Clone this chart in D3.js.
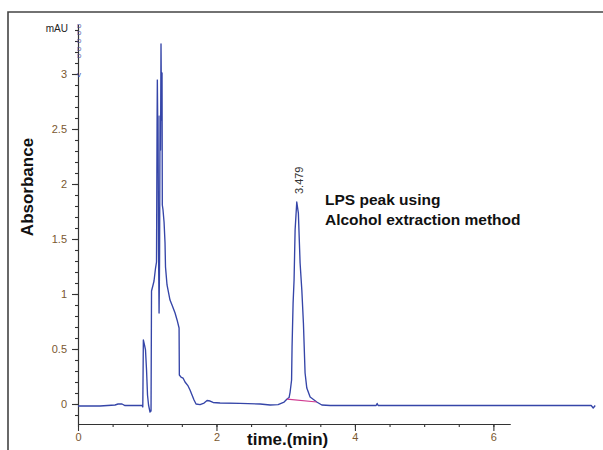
<!DOCTYPE html>
<html><head><meta charset="utf-8">
<script src="https://cdn.jsdelivr.net/npm/d3@7/dist/d3.min.js"></script>
<style>body{margin:0;background:#fff}svg{display:block}</style>
</head><body><svg id="c" width="603" height="450"></svg>
<script>
// Chromatogram trace (time in min, absorbance in mAU)
const time = [0.000,0.318,0.535,0.578,0.636,0.679,0.925,0.936,0.944,0.961,0.975,0.990,1.004,1.019,1.040,1.055,1.062,1.084,1.098,1.120,1.134,1.142,1.146,1.152,1.156,1.163,1.171,1.178,1.185,1.192,1.199,1.207,1.214,1.218,1.228,1.243,1.257,1.264,1.286,1.329,1.358,1.402,1.431,1.460,1.464,1.488,1.517,1.546,1.590,1.618,1.647,1.676,1.705,1.763,1.821,1.864,1.908,1.951,2.052,2.341,2.630,2.775,2.890,2.977,3.020,3.049,3.064,3.085,3.092,3.107,3.121,3.136,3.160,3.183,3.208,3.233,3.256,3.280,3.305,3.353,3.449,3.522,3.642,4.306,4.321,4.335,6.098,7.413,7.442,7.471];
const absorbance = [-0.018,-0.018,-0.009,0.000,0.000,-0.014,-0.014,-0.027,0.582,0.536,0.491,0.309,0.082,-0.009,-0.073,-0.064,1.027,1.082,1.118,1.236,1.291,2.536,2.945,2.536,2.618,1.400,0.827,1.309,2.618,2.309,3.273,2.582,3.009,1.809,1.764,1.655,1.464,1.245,1.082,0.945,0.900,0.827,0.764,0.691,0.264,0.245,0.236,0.200,0.164,0.127,0.082,0.036,0.000,-0.005,0.009,0.032,0.027,0.014,0.009,0.005,0.000,-0.009,-0.005,0.018,0.045,0.059,0.109,0.218,0.518,0.918,1.127,1.582,1.836,1.736,1.282,1.036,0.736,0.282,0.145,0.064,0.018,-0.009,-0.014,-0.014,0.005,-0.014,-0.014,-0.014,-0.036,-0.014];
// integration baseline of the LPS peak
const baseTime = [3.020, 3.449];
const baseAbs = [0.045, 0.018];
const yTickValues = [0, 0.5, 1, 1.5, 2, 2.5, 3];
const yTickLabels = ["0", "0.5", "1", "1.5", "2", "2.5", "3"];
const xTickValues = [0, 2, 4, 6];
const xTickLabels = ["0", "2", "4", "6"];
const peakLabel = "3.479";
const peakTime = 3.160, peakAbs = 1.836;

const svg = d3.select("#c");
const x = d3.scaleLinear().domain([0, 6.24]).range([78, 510]);
const y = d3.scaleLinear().domain([-0.18, 3.45]).range([423.8, 24.5]);

// frame
svg.append("path").attr("d","M8,450V12H603").attr("fill","none").attr("stroke","#444").attr("stroke-width",1.6);

const tickColor = "#7a5830";
// Y axis
const yMinor = d3.range(-1, 35).map(d => d / 10);
svg.append("g").attr("transform","translate(78,0)")
  .call(d3.axisLeft(y).tickValues(yMinor).tickSize(3).tickSizeOuter(0).tickFormat(""))
  .call(g => g.selectAll("line,path").attr("stroke","#333").attr("stroke-width",1.1));
const ya = svg.append("g").attr("transform","translate(78,0)")
  .call(d3.axisLeft(y).tickValues(yTickValues).tickSize(6).tickSizeOuter(0).tickPadding(5)
    .tickFormat((d,i) => yTickLabels[i]));
ya.selectAll("line,path").attr("stroke","#333").attr("stroke-width",1.1);
ya.selectAll("text").attr("fill",tickColor).style("font-family","Liberation Sans, Arial, sans-serif").style("font-size","11px");

// X axis
const xMinor = d3.range(0, 13).map(d => d / 2);
svg.append("g").attr("transform","translate(0,424)")
  .call(d3.axisBottom(x).tickValues(xMinor).tickSize(3).tickSizeOuter(0).tickFormat(""))
  .call(g => g.selectAll("line,path").attr("stroke","#333").attr("stroke-width",1.1));
const xa = svg.append("g").attr("transform","translate(0,424)")
  .call(d3.axisBottom(x).tickValues(xTickValues).tickSize(7).tickSizeOuter(0).tickPadding(2)
    .tickFormat((d,i) => xTickLabels[i]));
xa.selectAll("line,path").attr("stroke","#333").attr("stroke-width",1.1);
xa.selectAll("text").attr("fill",tickColor).style("font-family","Liberation Sans, Arial, sans-serif").style("font-size","11px");

// mAU label and marker glyphs
svg.append("text").attr("x",68).attr("y",32).attr("text-anchor","end")
  .style("font-family","Liberation Sans, Arial, sans-serif").style("font-size","10px").attr("fill","#222").text("mAU");
const markerY = [3.45, 3.38, 3.31, 3.24, 3.17];
svg.selectAll("text.mk").data(markerY).join("text").attr("class","mk")
  .attr("x",77).attr("y",d => y(d)+3)
  .style("font-family","Liberation Sans, Arial, sans-serif").style("font-size","6px").attr("fill","#4050a8").text("D");
svg.append("text").attr("x",77).attr("y",y(3)+3)
  .style("font-family","Liberation Sans, Arial, sans-serif").style("font-size","8px").attr("fill","#4050a8").text("v");

// trace
const pts = time.map((t,i) => [t, absorbance[i]]);
svg.append("path").datum(pts)
  .attr("d", d3.line().x(d => x(d[0])).y(d => y(d[1])))
  .attr("fill","none").attr("stroke","#3545a8").attr("stroke-width",1.35).attr("stroke-linejoin","round");

// integration baseline
svg.append("path").datum(baseTime.map((t,i)=>[t, baseAbs[i]]))
  .attr("d", d3.line().x(d => x(d[0])).y(d => y(d[1])))
  .attr("fill","none").attr("stroke","#d03a90").attr("stroke-width",1.2);

// peak label
svg.append("text").attr("transform",`translate(${x(peakTime)+6},${y(peakAbs)-8}) rotate(-90)`)
  .style("font-family","Liberation Sans, Arial, sans-serif").style("font-size","11px").attr("fill","#333").text(peakLabel);

// annotation
const ann = svg.append("text").style("font-family","Liberation Sans, Arial, sans-serif")
  .style("font-size","15.5px").style("font-weight","bold").attr("fill","#111");
ann.append("tspan").attr("x",325).attr("y",205).text("LPS peak using");
ann.append("tspan").attr("x",325).attr("y",225).text("Alcohol extraction method");

// axis titles
svg.append("text").attr("transform","translate(33,187) rotate(-90)").attr("text-anchor","middle")
  .style("font-family","Liberation Sans, Arial, sans-serif").style("font-size","17px").style("font-weight","bold")
  .attr("fill","#111").text("Absorbance");
svg.append("text").attr("x",247).attr("y",445)
  .style("font-family","Liberation Sans, Arial, sans-serif").style("font-size","17px").style("font-weight","bold")
  .attr("fill","#111").text("time.(min)");
</script></body></html>
